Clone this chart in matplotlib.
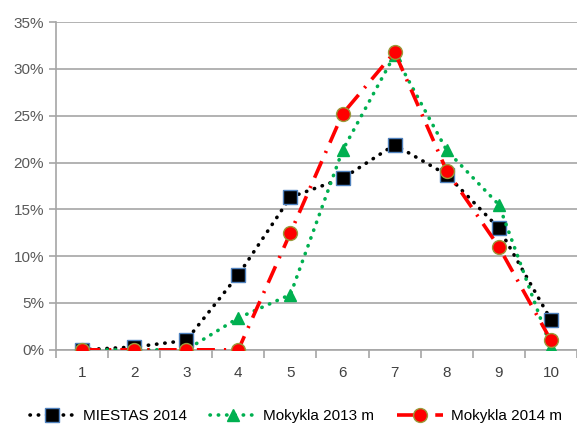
import matplotlib.pyplot as plt
from matplotlib.ticker import PercentFormatter

#### data

categories = [1, 2, 3, 4, 5, 6, 7, 8, 9, 10]
miestas_2014 = [0.0, 0.3, 1.0, 8.0, 16.3, 18.3, 21.9, 18.7, 13.0, 3.2]
mokykla_2013 = [0.0, 0.0, 0.0, 3.4, 5.9, 21.3, 31.5, 21.3, 15.5, 0.3]
mokykla_2014 = [0.0, 0.0, 0.0, 0.0, 12.5, 25.2, 31.8, 19.1, 11.0, 1.0]
labels = ["MIESTAS 2014", "Mokykla 2013 m", "Mokykla 2014 m"]

#### figure

plt.rcParams['font.family'] = ['Liberation Sans Narrow', 'Liberation Sans', 'DejaVu Sans']
fig = plt.figure(figsize=(5.77, 4.34), dpi=100)
ax = fig.add_axes([0.097, 0.194, 0.903, 0.755])

x = list(range(len(categories)))

# series
ax.plot(x, miestas_2014, color='black', linestyle=(0, (0.1, 2.2)), linewidth=2.6,
        dash_capstyle='round', marker='s', markersize=10,
        markerfacecolor='black', markeredgecolor='#4f81bd', markeredgewidth=1,
        label=labels[0], zorder=3)
ax.plot(x, mokykla_2013, color='#00b050', linestyle=(0, (0.1, 2.2)), linewidth=2.6,
        dash_capstyle='round', marker='^', markersize=9,
        markerfacecolor='#00b050', markeredgecolor='#00b050',
        label=labels[1], zorder=4)
ax.plot(x, mokykla_2014, color='#ff0000', linestyle=(0, (5, 2.5, 0.6, 2.5)), linewidth=2.6,
        marker='o', markersize=10,
        markerfacecolor='#ff0000', markeredgecolor='#9a9a3a', markeredgewidth=1,
        label=labels[2], zorder=5)

# axes
ax.set_xlim(-0.5, len(categories) - 0.5)
ax.set_ylim(0, 35)
ax.set_yticks(range(0, 36, 5))
ax.yaxis.set_major_formatter(PercentFormatter(decimals=0))
ax.set_xticks(x)
ax.set_xticklabels([str(c) for c in categories])
ax.set_xticks([i - 0.5 for i in range(len(categories) + 1)], minor=True)

ax.grid(axis='y', color='#a6a6a6', linewidth=1.2)
ax.set_axisbelow(True)
for side in ['top', 'right']:
    ax.spines[side].set_visible(False)
ax.spines['left'].set_color('#a6a6a6')
ax.spines['bottom'].set_color('#a6a6a6')
ax.spines['left'].set_linewidth(1.2)
ax.spines['bottom'].set_linewidth(1.2)

ax.tick_params(axis='x', which='major', length=0, pad=12, labelsize=11, labelcolor='#404040')
ax.tick_params(axis='x', which='minor', length=6, color='#a6a6a6', width=1.2)
ax.tick_params(axis='y', length=5, color='#a6a6a6', width=1.2, labelsize=11, labelcolor='#595959')

ax.legend(loc='upper center', bbox_to_anchor=(0.46, -0.14), ncol=3, frameon=False,
          fontsize=11, handlelength=3, columnspacing=1.5, handletextpad=0.5)

fig.savefig('out.png', dpi=100)
